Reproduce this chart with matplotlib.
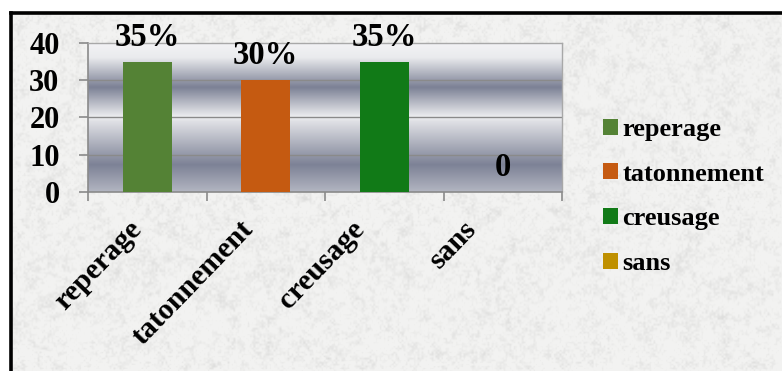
import numpy as np
import matplotlib
matplotlib.use("Agg")
import matplotlib.pyplot as plt
from matplotlib.colors import LinearSegmentedColormap
from matplotlib.patches import Patch
from matplotlib.lines import Line2D
import matplotlib.transforms as mtransforms

# ---- data ----
categories = ["reperage", "tatonnement", "creusage", "sans"]
values = [35, 30, 35, 0]
value_labels = ["35%", "30%", "35%", "0"]
bar_colors = ["#548235", "#C55A11", "#117A17", "#BF9000"]
y_ticks = [0, 10, 20, 30, 40]

W, H, DPI = 782, 371, 100
fig = plt.figure(figsize=(W / DPI, H / DPI), dpi=DPI, facecolor="white")
font = "Liberation Serif"

# ---- marbled paper background inside the frame ----
frame_left, frame_top = 10.5 / W, (H - 13) / H
bg = fig.add_axes([frame_left, 0, 1 - frame_left, frame_top], zorder=0)
rng = np.random.default_rng(7)
ny, nx = 360, 772
tex = np.zeros((ny, nx))
for scale, amp in [(2, 0.45), (5, 0.4), (12, 0.3)]:
    small = rng.random((ny // scale + 2, nx // scale + 2))
    big = np.kron(small, np.ones((scale, scale)))[:ny, :nx]
    k = np.ones(scale) / scale
    big = np.apply_along_axis(lambda r: np.convolve(r, k, mode="same"), 1, big)
    big = np.apply_along_axis(lambda c: np.convolve(c, k, mode="same"), 0, big)
    tex += amp * big
tex = (tex - tex.min()) / (tex.max() - tex.min())
shade = 0.95 - 0.16 * np.clip(tex - 0.45, 0, None) ** 1.1
rgb = np.dstack([shade, shade, shade * 0.995])
bg.imshow(rgb, aspect="auto", interpolation="bilinear", extent=[0, 1, 0, 1])
bg.set_axis_off()

# black frame on the left and top
fig.add_artist(Line2D([frame_left, frame_left], [0, frame_top], color="black",
                      lw=2.6, transform=fig.transFigure, zorder=5))
fig.add_artist(Line2D([frame_left, 1], [frame_top, frame_top], color="black",
                      lw=2.6, transform=fig.transFigure, zorder=5))

# ---- plot area ----
L, R, B, T = 88, 562, 192, 43
ax = fig.add_axes([L / W, (H - B) / H, (R - L) / W, (B - T) / H], zorder=2)

# metallic banded gradient fill (row 0 = top of the plot area)
stops = [0.0, 0.10, 0.30, 0.50, 0.53, 0.82, 1.0]
stop_colors = ["#f3f3f5", "#eaebee", "#7c8195", "#eeeff1", "#dfe0e5", "#7d8296", "#b2b5c1"]
cmap = LinearSegmentedColormap.from_list("chrome", list(zip(stops, stop_colors)))
grad = np.linspace(0, 1, 400).reshape(-1, 1)
ax.imshow(grad, cmap=cmap, aspect="auto", extent=[-0.5, 3.5, 0, 40],
          origin="upper", zorder=0, interpolation="bilinear")

x = np.arange(len(categories))
ax.bar(x, values, width=0.41, color=bar_colors, zorder=3)

ax.set_xlim(-0.5, 3.5)
ax.set_ylim(0, 40)
for v in y_ticks[1:-1]:
    ax.axhline(v, color="#8a8a8a", lw=1.0, zorder=1)

for s in ["top", "right"]:
    ax.spines[s].set_color("#a8a8a8")
    ax.spines[s].set_linewidth(1.0)
for s in ["left", "bottom"]:
    ax.spines[s].set_color("#8a8a8a")
    ax.spines[s].set_linewidth(1.2)

ax.set_yticks(y_ticks)
ax.set_yticklabels([str(v) for v in y_ticks], fontfamily=font,
                   fontweight="bold", fontsize=22)
ax.tick_params(axis="y", direction="out", length=6.5, width=1.2,
               color="#8a8a8a", pad=14)

# category boundary ticks and rotated labels
ax.set_xticks(np.arange(-0.5, 4.0, 1.0))
ax.set_xticklabels([])
ax.tick_params(axis="x", which="major", direction="out", length=6.5,
               width=1.2, color="#8a8a8a")
ax.set_xticks(x, minor=True)
ax.set_xticklabels(categories, minor=True, rotation=46, ha="right",
                   va="top", fontfamily=font, fontweight="bold", fontsize=21.5)
ax.tick_params(axis="x", which="minor", length=0, pad=17)
label_nudge_px = [0, -7, -14, -21]
for lbl, dx in zip(ax.get_xticklabels(minor=True), label_nudge_px):
    shift = mtransforms.ScaledTranslation(dx / DPI, 0, fig.dpi_scale_trans)
    lbl.set_transform(lbl.get_transform() + shift)

# value labels above bars
for xi, v, txt in zip(x, values, value_labels):
    ax.annotate(txt, (xi, v), xytext=(0, 11.5), textcoords="offset points",
                ha="center", va="baseline", fontfamily=font,
                fontweight="bold", fontsize=23.5, zorder=4, annotation_clip=False)

# ---- legend ----
handles = [Patch(facecolor=c, edgecolor="none") for c in bar_colors]
fig.legend(handles, categories, loc="center left",
           bbox_to_anchor=(603 / W, (H - 196.5) / H), frameon=False,
           prop={"family": font, "weight": "bold", "size": 19},
           handlelength=0.55, handleheight=0.55, handletextpad=0.18,
           labelspacing=0.82, borderpad=0, borderaxespad=0)

fig.savefig("out.png", dpi=DPI, facecolor="white")
